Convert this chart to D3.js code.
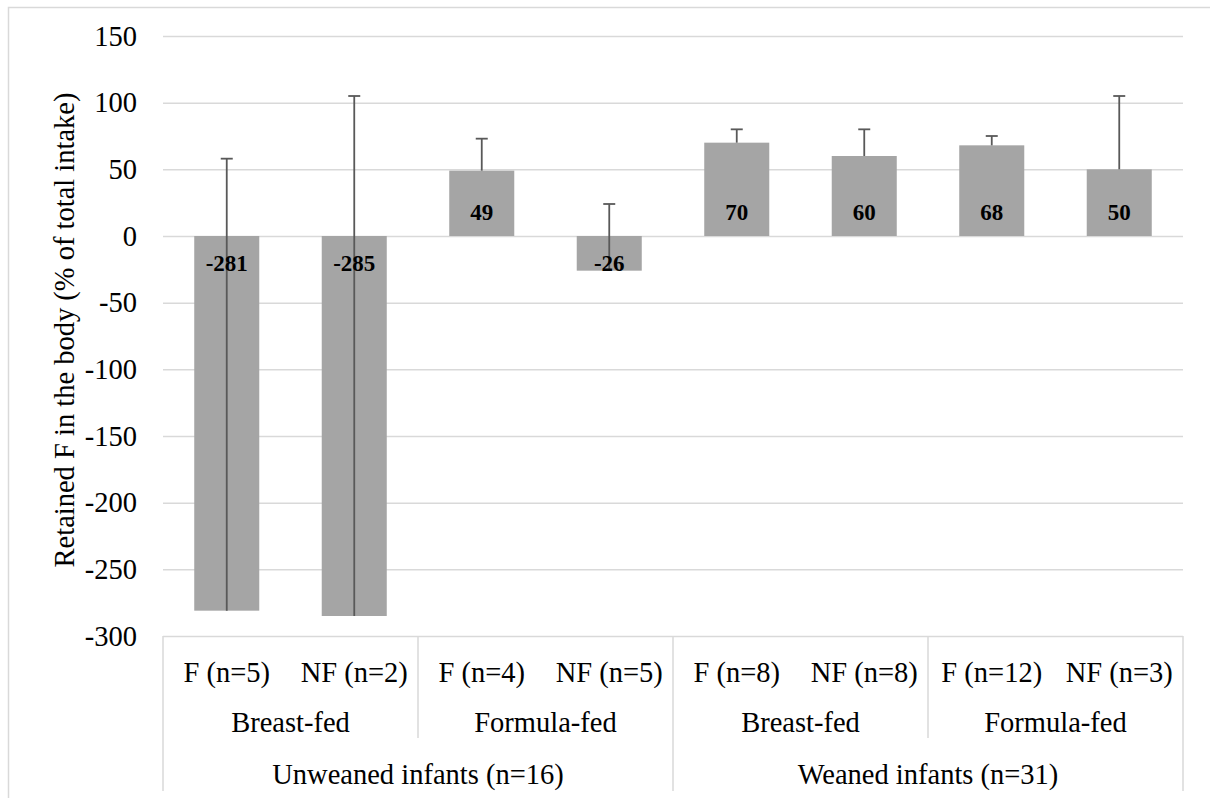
<!DOCTYPE html>
<html>
<head>
<meta charset="utf-8">
<script src="https://cdn.jsdelivr.net/npm/d3@7"></script>
<style>
    body { margin: 0; background: #fff; }
    svg text { font-family: "Liberation Serif", "DejaVu Serif", serif; fill: #000; }
</style>
</head>
<body>
<div id="div-chart"></div>
<script>
// groups shown under the bars, from the inner row to the outer row
var subgroups = ["F (n=5)", "NF (n=2)", "F (n=4)", "NF (n=5)", "F (n=8)", "NF (n=8)", "F (n=12)", "NF (n=3)"];
var feedings = ["Breast-fed", "Formula-fed", "Breast-fed", "Formula-fed"];
var weaning = ["Unweaned infants (n=16)", "Weaned infants (n=31)"];

// retained F (% of total intake) and the plus error of each bar
var retained = [-281, -285, 49, -26, 70, 60, 68, 50];
var plusError = [339, 390, 24, 50, 10, 20, 7, 55];

var yTicks = [150, 100, 50, 0, -50, -100, -150, -200, -250, -300];

function makeBarChart() {
    var width = 1210,
        height = 798;
    var left = 163, right = 1183, top = 36, bottom = 636;
    var fontSize = "28.5px";

    var svg = d3.select("#div-chart")
        .append("svg")
        .attr("width", width)
        .attr("height", height);

    // light border round the chart area
    svg.append("rect")
        .attr("x", 8.5)
        .attr("y", 7.5)
        .attr("width", 1400)
        .attr("height", 1000)
        .attr("fill", "none")
        .attr("stroke", "#d9d9d9")
        .attr("stroke-width", 1.5);

    var x = d3.scaleBand()
        .domain(subgroups.map(function (d, i) { return i; }))
        .range([left, right])
        .paddingInner(0.49)
        .paddingOuter(0.245);
    var step = x.step();

    var y = d3.scaleLinear()
        .domain([-300, 150])
        .range([bottom, top]);

    // gridlines and tick labels (plain hyphen, not the unicode minus)
    var yAxis = d3.axisLeft(y)
        .tickValues(yTicks)
        .tickSize(-(right - left))
        .tickPadding(26)
        .tickFormat(function (d) { return String(d); });
    var yg = svg.append("g")
        .attr("transform", "translate(" + left + ",0)")
        .call(yAxis);
    yg.select(".domain").remove();
    yg.selectAll(".tick line")
        .attr("stroke", "#d9d9d9")
        .attr("stroke-width", 1.5);
    yg.selectAll(".tick text")
        .style("font-size", fontSize)
        .attr("fill", "#000");

    // bars
    svg.selectAll(".bar")
        .data(retained)
        .enter().append("rect")
        .attr("class", "bar")
        .attr("x", function (d, i) { return x(i); })
        .attr("y", function (d) { return y(Math.max(0, d)); })
        .attr("width", x.bandwidth())
        .attr("height", function (d) { return Math.abs(y(d) - y(0)); })
        .attr("fill", "#a5a5a5");

    // plus error bars, drawn from the bar end upward
    var err = svg.selectAll(".err")
        .data(retained)
        .enter().append("g")
        .attr("class", "err")
        .attr("stroke", "#595959")
        .attr("stroke-width", 1.8);
    err.append("line")
        .attr("x1", function (d, i) { return x(i) + x.bandwidth() / 2; })
        .attr("x2", function (d, i) { return x(i) + x.bandwidth() / 2; })
        .attr("y1", function (d) { return y(d); })
        .attr("y2", function (d, i) { return y(d + plusError[i]); });
    err.append("line")
        .attr("x1", function (d, i) { return x(i) + x.bandwidth() / 2 - 6; })
        .attr("x2", function (d, i) { return x(i) + x.bandwidth() / 2 + 6; })
        .attr("y1", function (d, i) { return y(d + plusError[i]); })
        .attr("y2", function (d, i) { return y(d + plusError[i]); });

    // value labels at the base of each bar
    svg.selectAll(".val")
        .data(retained)
        .enter().append("text")
        .attr("class", "val")
        .attr("x", function (d, i) { return x(i) + x.bandwidth() / 2; })
        .attr("y", function (d) { return d >= 0 ? y(0) - 24 : y(0) + 27; })
        .attr("dy", "0.35em")
        .attr("text-anchor", "middle")
        .style("font-size", "23px")
        .style("font-weight", "bold")
        .text(function (d) { return d; });

    // category table under the plot
    var lineColor = "#d9d9d9";
    function vline(xp, y2) {
        svg.append("line")
            .attr("x1", xp).attr("x2", xp)
            .attr("y1", bottom).attr("y2", y2)
            .attr("stroke", lineColor)
            .attr("stroke-width", 1.5);
    }
    vline(left, 791);
    vline(right, 791);
    vline(left + step * 4, 791);
    vline(left + step * 2, 738);
    vline(left + step * 6, 738);

    svg.selectAll(".sub")
        .data(subgroups)
        .enter().append("text")
        .attr("x", function (d, i) { return left + step * (i + 0.5); })
        .attr("y", 672)
        .attr("dy", "0.35em")
        .attr("text-anchor", "middle")
        .style("font-size", fontSize)
        .text(function (d) { return d; });

    svg.selectAll(".feed")
        .data(feedings)
        .enter().append("text")
        .attr("x", function (d, i) { return left + step * (2 * i + 1); })
        .attr("y", 722)
        .attr("dy", "0.35em")
        .attr("text-anchor", "middle")
        .style("font-size", fontSize)
        .text(function (d) { return d; });

    svg.selectAll(".wean")
        .data(weaning)
        .enter().append("text")
        .attr("x", function (d, i) { return left + step * (4 * i + 2); })
        .attr("y", 774)
        .attr("dy", "0.35em")
        .attr("text-anchor", "middle")
        .style("font-size", fontSize)
        .text(function (d) { return d; });

    // y axis title
    svg.append("text")
        .attr("transform", "translate(64," + 330 + ") rotate(-90)")
        .attr("dy", "0.35em")
        .attr("text-anchor", "middle")
        .style("font-size", fontSize)
        .text("Retained F in the body (% of total intake)");
}

makeBarChart();
</script>
</body>
</html>
